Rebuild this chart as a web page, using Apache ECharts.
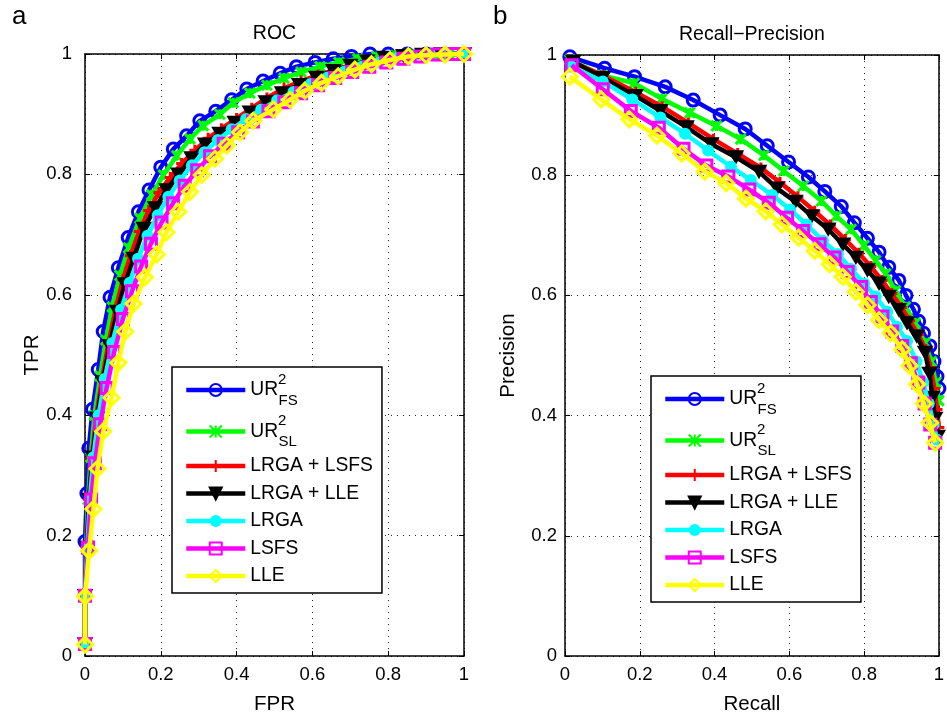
<!DOCTYPE html>
<html><head><meta charset="utf-8">
<script src="https://cdn.jsdelivr.net/npm/echarts@6/dist/echarts.min.js"></script>
<style>html,body{margin:0;padding:0;background:#fff}#c{width:947px;height:720px}</style>
</head><body><div id="c"></div>
<script>
// ---------- data ----------
const seriesNames = ['UR_FS', 'UR_SL', 'LRGA + LSFS', 'LRGA + LLE', 'LRGA', 'LSFS', 'LLE'];
const axisTickValues = [0, 0.2, 0.4, 0.6, 0.8, 1];

// ROC: [FPR, TPR]
const rocUrFs = [[0,0.02],[0,0.10],[0,0.19],[0.005,0.27],[0.01,0.345],[0.02,0.41],[0.035,0.476],[0.048,0.539],[0.066,0.596],[0.088,0.645],[0.114,0.695],[0.141,0.738],[0.169,0.774],[0.2,0.812],[0.233,0.842],[0.268,0.864],[0.303,0.889],[0.345,0.905],[0.387,0.924],[0.427,0.942],[0.47,0.955],[0.515,0.968],[0.558,0.979],[0.607,0.986],[0.655,0.992],[0.703,0.996],[0.752,1.0],[0.8,1.0],[0.85,1.0],[0.9,1.0],[0.95,1.0],[1,1]];
const rocUrSl = [[0,0.02],[0,0.1],[0.003,0.18],[0.008,0.26],[0.015,0.33],[0.025,0.4],[0.04,0.465],[0.055,0.525],[0.072,0.58],[0.092,0.632],[0.115,0.678],[0.145,0.727],[0.176,0.766],[0.207,0.799],[0.242,0.831],[0.277,0.859],[0.312,0.881],[0.356,0.9],[0.391,0.919],[0.435,0.935],[0.48,0.948],[0.525,0.96],[0.57,0.97],[0.62,0.979],[0.67,0.986],[0.72,0.992],[0.77,0.996],[0.82,0.998],[0.87,1.0],[0.92,1.0],[0.96,1.0],[1,1]];
const rocLrgaLsfs = [[0,0.02],[0,0.1],[0.004,0.18],[0.01,0.26],[0.018,0.33],[0.03,0.4],[0.045,0.46],[0.062,0.52],[0.082,0.58],[0.1,0.625],[0.12,0.665],[0.143,0.705],[0.168,0.74],[0.195,0.77],[0.225,0.795],[0.255,0.818],[0.29,0.84],[0.325,0.86],[0.36,0.876],[0.4,0.893],[0.44,0.91],[0.48,0.927],[0.525,0.943],[0.57,0.955],[0.615,0.965],[0.66,0.974],[0.705,0.982],[0.75,0.988],[0.8,0.994],[0.85,0.997],[0.9,0.999],[0.95,1.0],[1,1]];
const rocLrgaLle = [[0,0.02],[0,0.1],[0.005,0.18],[0.011,0.26],[0.02,0.33],[0.032,0.395],[0.047,0.455],[0.065,0.515],[0.085,0.572],[0.105,0.618],[0.128,0.66],[0.155,0.71],[0.185,0.744],[0.215,0.774],[0.246,0.8],[0.281,0.827],[0.317,0.85],[0.355,0.868],[0.395,0.886],[0.435,0.903],[0.477,0.92],[0.52,0.935],[0.565,0.949],[0.61,0.961],[0.655,0.972],[0.7,0.981],[0.745,0.988],[0.79,0.994],[0.84,0.997],[0.89,0.999],[0.94,1.0],[1,1]];
const rocLrga = [[0,0.02],[0,0.1],[0.006,0.18],[0.013,0.26],[0.022,0.33],[0.036,0.4],[0.052,0.46],[0.072,0.52],[0.095,0.575],[0.118,0.62],[0.14,0.66],[0.165,0.698],[0.192,0.732],[0.22,0.763],[0.25,0.79],[0.282,0.815],[0.315,0.837],[0.35,0.857],[0.387,0.875],[0.425,0.892],[0.465,0.908],[0.507,0.923],[0.55,0.937],[0.595,0.95],[0.64,0.961],[0.685,0.971],[0.73,0.979],[0.775,0.986],[0.82,0.992],[0.865,0.996],[0.91,0.999],[0.955,1.0],[1,1]];
const rocLsfs = [[0,0.02],[0,0.1],[0.008,0.18],[0.016,0.26],[0.026,0.32],[0.04,0.385],[0.057,0.445],[0.077,0.505],[0.1,0.56],[0.124,0.606],[0.148,0.647],[0.174,0.685],[0.202,0.72],[0.232,0.752],[0.263,0.781],[0.296,0.807],[0.33,0.83],[0.366,0.851],[0.404,0.87],[0.443,0.888],[0.484,0.905],[0.526,0.92],[0.57,0.935],[0.615,0.948],[0.66,0.96],[0.705,0.97],[0.75,0.979],[0.795,0.986],[0.84,0.992],[0.885,0.996],[0.93,0.999],[0.97,1.0],[1,1]];
const rocLle = [[0,0.019],[0,0.099],[0.011,0.175],[0.022,0.244],[0.033,0.311],[0.048,0.373],[0.07,0.429],[0.088,0.487],[0.106,0.539],[0.128,0.585],[0.158,0.629],[0.189,0.667],[0.215,0.704],[0.246,0.738],[0.277,0.771],[0.308,0.799],[0.343,0.826],[0.374,0.848],[0.409,0.87],[0.444,0.889],[0.497,0.908],[0.541,0.924],[0.58,0.939],[0.624,0.952],[0.668,0.963],[0.712,0.974],[0.756,0.983],[0.805,0.99],[0.853,0.996],[0.9,0.998],[0.95,0.999],[1,1]];

// Recall-Precision: [Recall, Precision]
const rpUrFs = [[0.013,0.997],[0.106,0.978],[0.186,0.964],[0.268,0.947],[0.343,0.925],[0.415,0.9],[0.482,0.877],[0.541,0.849],[0.598,0.822],[0.651,0.797],[0.695,0.773],[0.739,0.748],[0.774,0.721],[0.809,0.695],[0.84,0.672],[0.866,0.647],[0.893,0.625],[0.912,0.6],[0.932,0.577],[0.946,0.557],[0.959,0.537],[0.976,0.516],[0.987,0.49],[0.995,0.465],[1.0,0.445]];
const rpUrSl = [[0.013,0.992],[0.101,0.966],[0.185,0.953],[0.259,0.927],[0.334,0.904],[0.405,0.882],[0.47,0.86],[0.532,0.833],[0.585,0.807],[0.637,0.782],[0.686,0.757],[0.726,0.732],[0.765,0.71],[0.8,0.683],[0.831,0.658],[0.858,0.636],[0.884,0.608],[0.91,0.581],[0.937,0.554],[0.963,0.521],[0.98,0.49],[0.992,0.455],[1.0,0.425]];
const rpLrgaLsfs = [[0.013,0.99],[0.101,0.966],[0.189,0.938],[0.26,0.914],[0.33,0.887],[0.397,0.86],[0.462,0.836],[0.524,0.812],[0.575,0.788],[0.623,0.764],[0.668,0.74],[0.71,0.717],[0.75,0.693],[0.786,0.67],[0.818,0.648],[0.848,0.625],[0.874,0.603],[0.9,0.58],[0.922,0.558],[0.945,0.535],[0.965,0.51],[0.978,0.48],[0.988,0.445],[0.995,0.41],[1.0,0.38]];
const rpLrgaLle = [[0.022,0.989],[0.101,0.962],[0.189,0.932],[0.255,0.907],[0.325,0.88],[0.391,0.852],[0.457,0.83],[0.519,0.806],[0.567,0.778],[0.616,0.756],[0.66,0.732],[0.704,0.71],[0.743,0.685],[0.778,0.663],[0.809,0.642],[0.84,0.62],[0.866,0.598],[0.893,0.576],[0.915,0.554],[0.941,0.532],[0.963,0.505],[0.975,0.47],[0.983,0.43],[0.99,0.395],[0.997,0.365]];
const rpLrga = [[0.018,0.981],[0.101,0.956],[0.18,0.926],[0.255,0.896],[0.321,0.869],[0.383,0.841],[0.444,0.814],[0.497,0.792],[0.554,0.767],[0.602,0.743],[0.646,0.718],[0.69,0.691],[0.73,0.669],[0.765,0.644],[0.8,0.62],[0.831,0.598],[0.862,0.573],[0.888,0.548],[0.915,0.524],[0.94,0.49],[0.958,0.455],[0.973,0.42],[0.986,0.385],[0.995,0.36]];
const rpLsfs = [[0.018,0.983],[0.101,0.943],[0.176,0.907],[0.251,0.879],[0.317,0.844],[0.378,0.816],[0.437,0.798],[0.493,0.776],[0.545,0.754],[0.594,0.729],[0.637,0.707],[0.681,0.685],[0.721,0.663],[0.756,0.639],[0.792,0.614],[0.818,0.589],[0.849,0.565],[0.875,0.54],[0.902,0.516],[0.925,0.487],[0.945,0.455],[0.962,0.42],[0.977,0.385],[0.99,0.355]];
const rpLle = [[0.013,0.964],[0.097,0.926],[0.172,0.893],[0.246,0.866],[0.312,0.836],[0.374,0.806],[0.431,0.787],[0.484,0.761],[0.537,0.74],[0.58,0.718],[0.625,0.696],[0.668,0.674],[0.708,0.652],[0.743,0.631],[0.778,0.606],[0.809,0.584],[0.84,0.559],[0.871,0.537],[0.902,0.51],[0.922,0.483],[0.942,0.452],[0.96,0.42],[0.976,0.388],[0.99,0.355]];

const rocData = [rocUrFs, rocUrSl, rocLrgaLsfs, rocLrgaLle, rocLrga, rocLsfs, rocLle];
const rpData = [rpUrFs, rpUrSl, rpLrgaLsfs, rpLrgaLle, rpLrga, rpLsfs, rpLle];

// ---------- styles ----------
const FONT = 'Liberation Sans, Arial, sans-serif';
const styles = [
  {color:'#0000ff', symbol:'circle', size:12, fill:'rgba(0,0,0,0)', bw:3},
  {color:'#00ff00', symbol:'path://M0,0L10,10M10,0L0,10M5,0L5,10', size:10, fill:'#00ff00', bw:3},
  {color:'#ff0000', symbol:'path://M5,0L5,10M0,5L10,5', size:11, fill:'#ff0000', bw:3},
  {color:'#000000', symbol:'path://M0,0L10,0L5,8.66Z', size:14, fill:'#000000', bw:1.5},
  {color:'#00ffff', symbol:'circle', size:12, fill:'#00ffff', bw:0},
  {color:'#ff00ff', symbol:'rect', size:11, fill:'rgba(0,0,0,0)', bw:3},
  {color:'#ffff00', symbol:'diamond', size:15, fill:'rgba(0,0,0,0)', bw:3}
];

function makeSeries(dataSets, axisIdx) {
  return dataSets.map((d, i) => ({
    type: 'line', name: seriesNames[i], data: d,
    xAxisIndex: axisIdx, yAxisIndex: axisIdx,
    symbol: styles[i].symbol, symbolSize: styles[i].size, showSymbol: true,
    symbolKeepAspect: true, clip: false,
    lineStyle: {color: styles[i].color, width: 4.5},
    itemStyle: {color: styles[i].fill, borderColor: styles[i].color, borderWidth: styles[i].bw},
    emphasis: {disabled: true}, animation: false, z: 2 + i
  }));
}

const richStyles = {
  m: {fontSize: 19.3, fontFamily: FONT, color:'#000', lineHeight: 36, verticalAlign: 'middle'},
  sup: {fontSize: 15, fontFamily: FONT, color:'#000', lineHeight: 18, verticalAlign: 'top', width: 0.5},
  sub: {fontSize: 15, fontFamily: FONT, color:'#000', lineHeight: 16, verticalAlign: 'bottom'}
};
function legendFmt(name) {
  if (name === 'UR_FS') return '{m|UR}{sup|2}{sub|FS}';
  if (name === 'UR_SL') return '{m|UR}{sup|2}{sub|SL}';
  return name;
}
function makeLegend(left, top) {
  return {
    data: seriesNames, left: left, top: top, orient: 'vertical',
    padding: [5, 9, 6, 12], itemGap: 5.5, itemWidth: 59, itemHeight: 15,
    borderColor: '#000', borderWidth: 1.5, backgroundColor: '#fff',
    selectedMode: false, formatter: legendFmt,
    lineStyle: {width: 4.5},
    textStyle: {fontSize: 19.3, fontFamily: FONT, color: '#000', lineHeight: 22, rich: richStyles}
  };
}

function mainAxis(pos, gridIdx, name, nameGap, labelMargin) {
  const isX = (pos === 'bottom' || pos === 'top');
  return {
    type: 'value', gridIndex: gridIdx, position: pos, min: 0, max: 1, interval: 0.2,
    name: name, nameLocation: 'middle', nameGap: nameGap,
    nameRotate: isX ? 0 : 90,
    nameTextStyle: {fontSize: pos === 'top' ? 19.5 : 20.5, fontFamily: FONT, color: '#000'},
    axisLine: {show: true, onZero: false, lineStyle: {color: '#000', width: 1.5}},
    axisTick: {show: true, inside: true, length: 5, lineStyle: {color: '#000', width: 1}},
    axisLabel: {show: pos === 'bottom' || pos === 'left', fontSize: 18.5, fontFamily: FONT, color: '#000', margin: labelMargin},
    splitLine: {show: pos === 'bottom' || pos === 'left', lineStyle: {color: '#222', width: 1, type: [1, 5]}}
  };
}

const chart = echarts.init(document.getElementById('c'), null, {renderer: 'canvas'});
chart.setOption({
  backgroundColor: '#fff',
  animation: false,
  grid: [
    {left: 85, top: 54, width: 379, height: 609, show: false},
    {left: 565, top: 55, width: 379, height: 609, show: false}
  ],
  xAxis: [
    mainAxis('bottom', 0, 'FPR', 38, 9),
    mainAxis('top', 0, 'ROC', 10, 8),
    mainAxis('bottom', 1, 'Recall', 38, 9),
    mainAxis('top', 1, 'Recall\u2212Precision', 10, 8)
  ],
  yAxis: [
    mainAxis('left', 0, 'TPR', 42, 13),
    mainAxis('right', 0, '', 10, 8),
    mainAxis('left', 1, 'Precision', 46, 8),
    mainAxis('right', 1, '', 10, 8)
  ],
  legend: [makeLegend(172, 367), makeLegend(651, 376)],
  graphic: [
    {type: 'text', left: 12, top: 4, style: {text: 'a', font: '26px ' + FONT, fill: '#000'}},
    {type: 'text', left: 493, top: 4, style: {text: 'b', font: '26px ' + FONT, fill: '#000'}}
  ],
  series: makeSeries(rocData, 0).concat(makeSeries(rpData, 2))
});
</script>
</body></html>
